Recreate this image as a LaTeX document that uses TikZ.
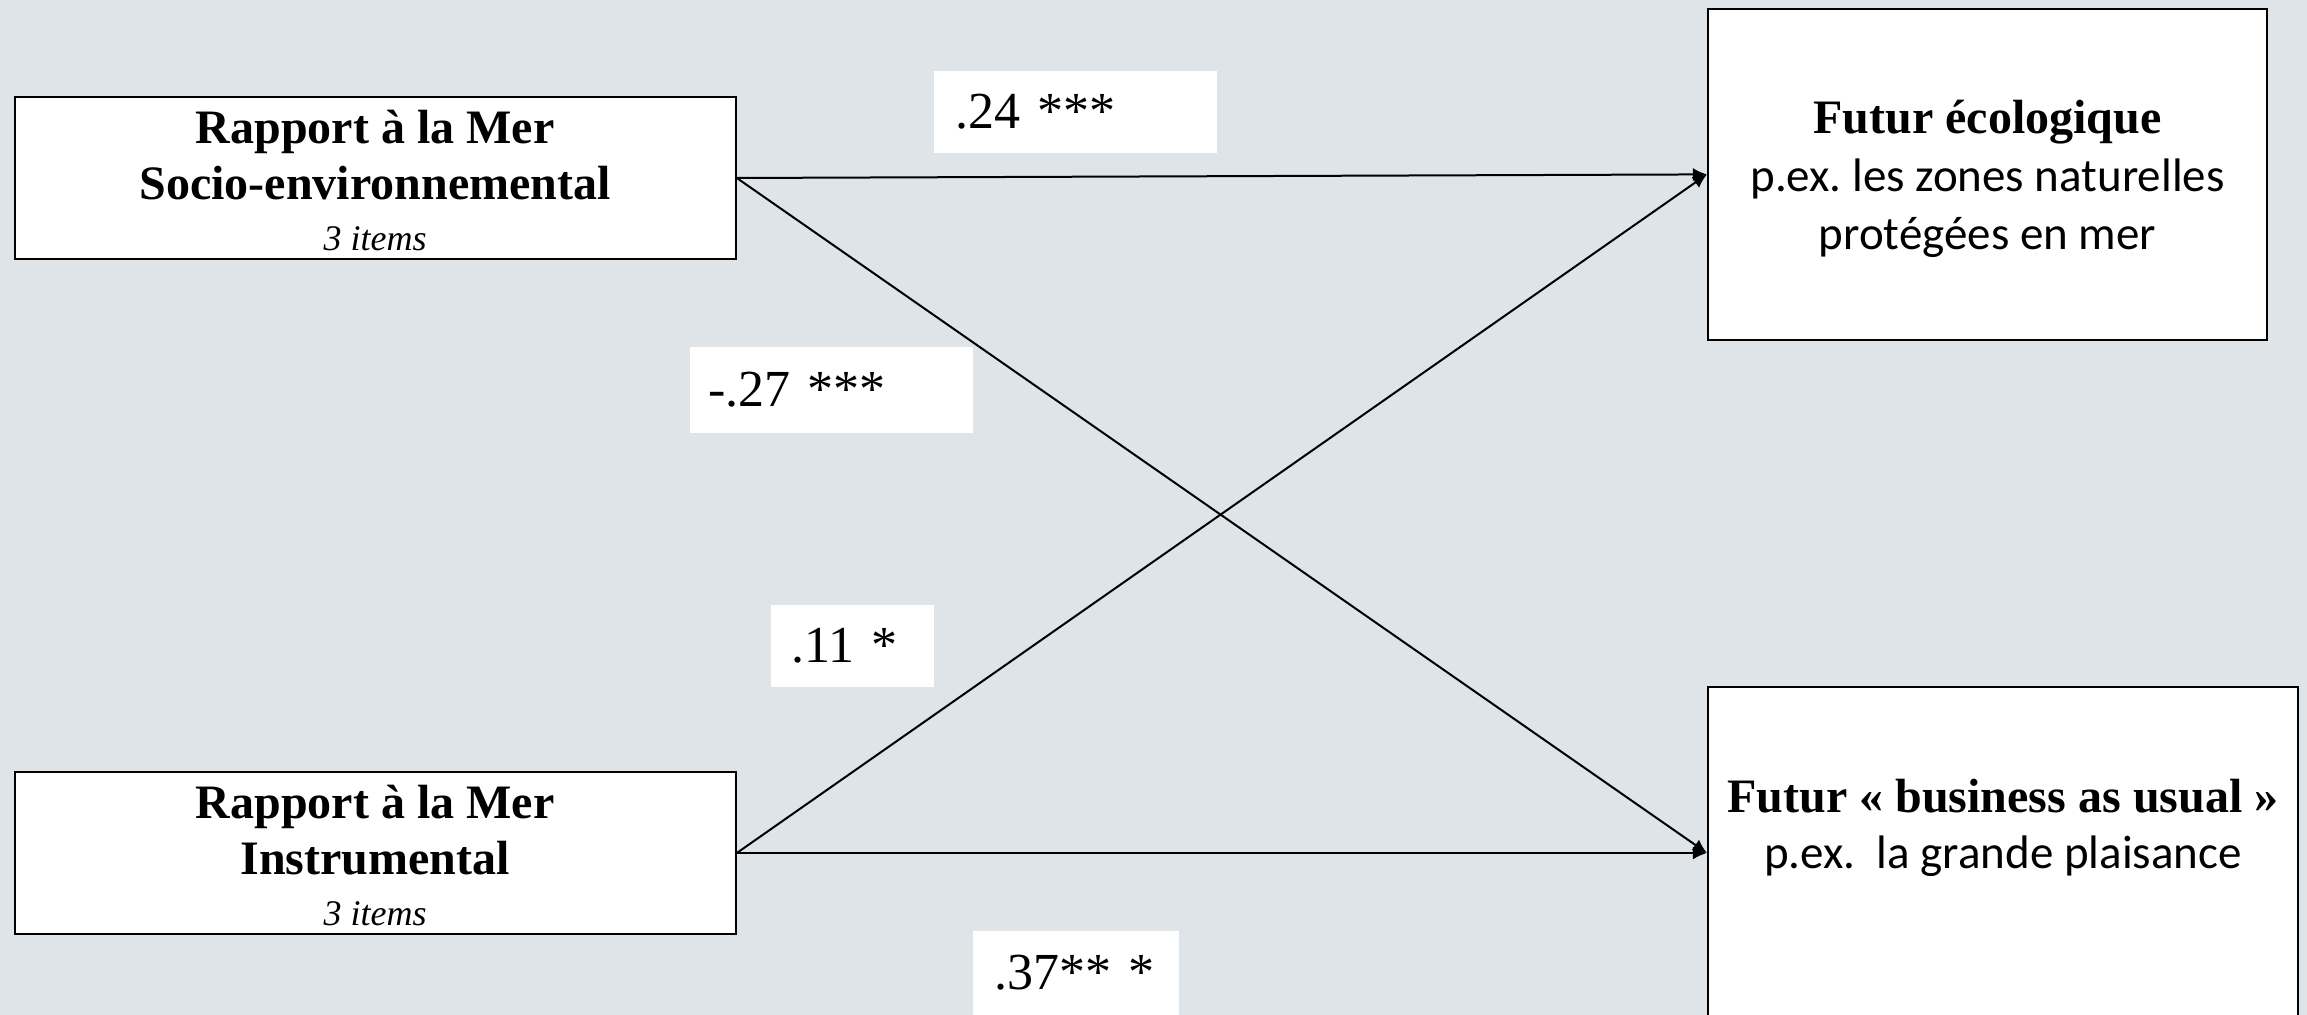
\documentclass[tikz,border=0pt]{standalone}
\usepackage{fontspec}
\setmainfont{Liberation Serif}
\newfontfamily\calib{Carlito}
\usetikzlibrary{arrows.meta}
\definecolor{bgcol}{RGB}{223,228,233}
\frenchspacing
\begin{document}
\begin{tikzpicture}[x=0.5pt,y=-0.5pt,
  box/.style={draw=black, line width=1.1pt, fill=white, align=center, inner sep=0pt},
  lab/.style={fill=white, inner ysep=0pt, align=left, font=\fontsize{26}{30}\selectfont},
  conn/.style={line width=1pt, -{Latex[length=7pt,width=6.5pt]}}]
\clip (0,0) rectangle (2307,1015);
\fill[bgcol] (0,0) rectangle (2307,1015);

% left boxes
\node[box, minimum width=360.5pt, minimum height=81pt, font=\fontsize{24}{28}\selectfont] (A) at (375.2,178)
  {{\rule{0pt}{18.8pt}\bfseries Rapport à la Mer}\\{\bfseries Socio-environnemental}\\[-2.5pt]{\fontsize{18}{22}\selectfont\itshape 3 items}};
\node[box, minimum width=360.5pt, minimum height=81pt, font=\fontsize{24}{28}\selectfont] (B) at (375.2,853)
  {{\rule{0pt}{18.8pt}\bfseries Rapport à la Mer}\\{\bfseries Instrumental}\\[-2.5pt]{\fontsize{18}{22}\selectfont\itshape 3 items}};

% right boxes
\node[box, minimum width=279.5pt, minimum height=165.5pt, font=\fontsize{24}{29}\selectfont] (C) at (1987.5,174.4)
  {{\rule{0pt}{21pt}\bfseries Futur écologique}\\{\calib\fontsize{23.5}{29}\selectfont p.ex. les zones naturelles}\\{\calib\fontsize{23.5}{29}\selectfont protégées en mer}};
\node[box, minimum width=295pt, minimum height=166pt, font=\fontsize{24}{28}\selectfont] (D) at (2003,853)
  {{\bfseries Futur « business as usual »}\\{\calib\fontsize{23.5}{28}\selectfont p.ex.\ \ la grande plaisance}\\[1.5pt]\mbox{}};

% connectors
\draw[conn] (A.east) -- (C.west);
\draw[conn] (A.east) -- (D.west);
\draw[conn] (B.east) -- (C.west);
\draw[conn] (B.east) -- (D.west);

% coefficient labels
\node[lab, inner xsep=10.5pt, text width=120.5pt, minimum height=41pt] (l1) at (1075.5,112) {.24 ***};
\node[lab, inner xsep=9pt, text width=123.5pt, minimum height=43pt] (l2) at (831.5,390) {-.27 ***};
\node[lab, inner xsep=10pt, text width=61.5pt, minimum height=41pt] (l3) at (852.5,646) {.11 *};
\node[lab, inner xsep=10.5pt, text width=82pt, minimum height=42pt] (l4) at (1076,973) {.37** *};
\end{tikzpicture}
\end{document}
